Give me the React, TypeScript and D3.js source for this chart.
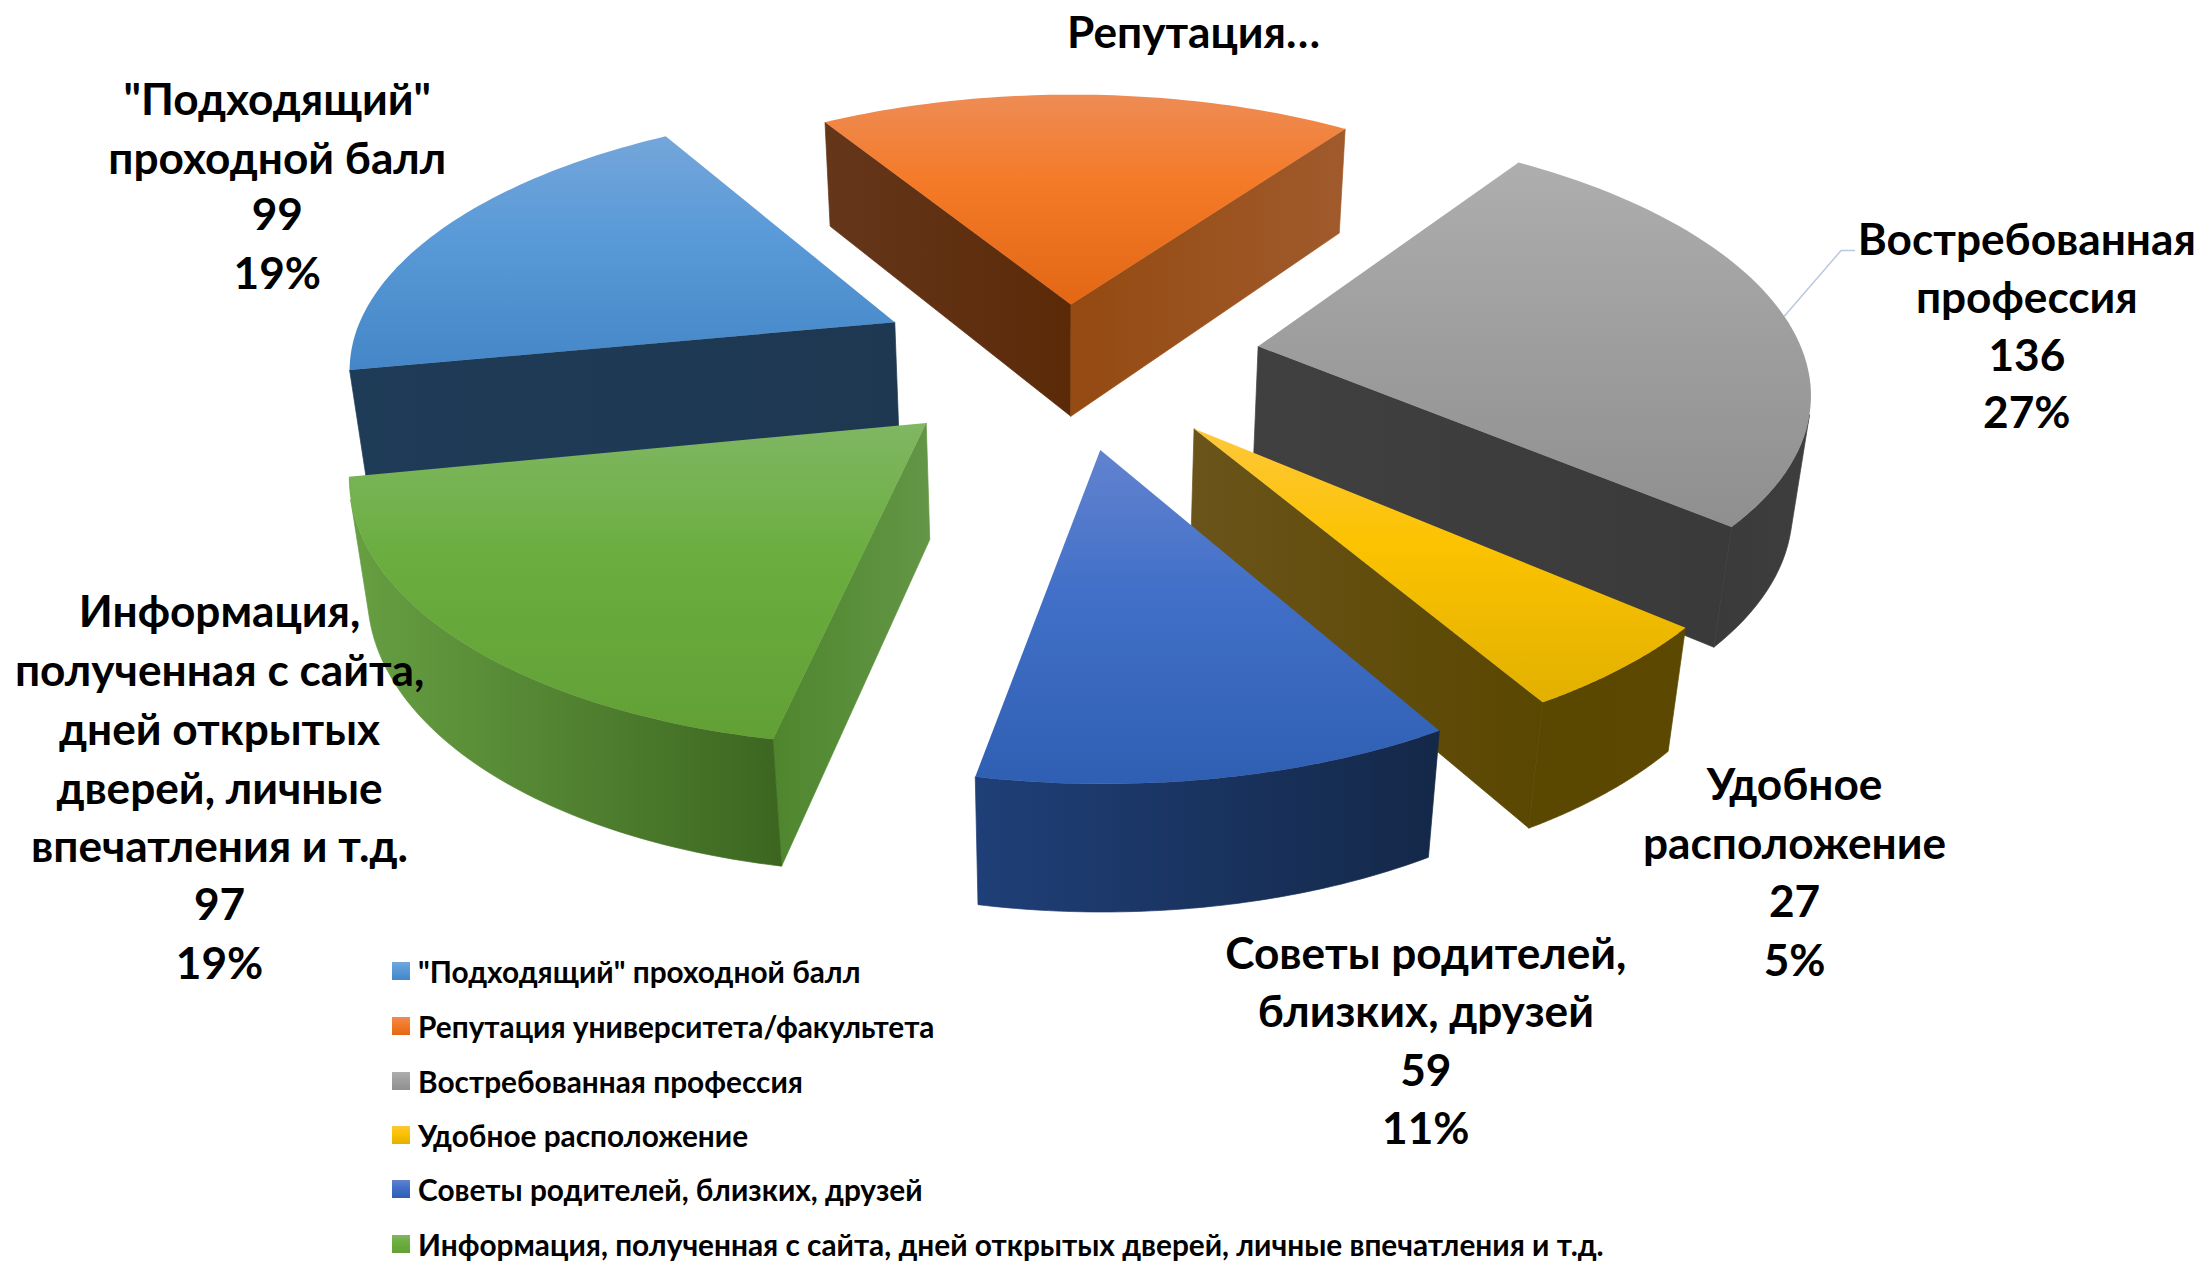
import React from "react";
import * as d3 from "d3";

const W = 2207, H = 1261, S = 2207 / 1568;

const categories = ['"Подходящий" проходной балл', "Репутация университета/факультета", "Востребованная профессия", "Удобное расположение", "Советы родителей, близких, друзей", "Информация, полученная с сайта, дней открытых дверей, личные впечатления и т.д."];
const values = [99, 95, 136, 27, 59, 97];
const explode = [0.352, 0.215, 0.355, 0.35, 0.35, 0.35];
const topStops = [
  ["#74a6da", "#5a9ad8", "#4486c7"],
  ["#ee8c55", "#f47a27", "#e36714"],
  ["#aeaeae", "#a0a0a0", "#8f8f8f"],
  ["#ffc73a", "#fbc300", "#e2b000"],
  ["#6283cf", "#4270c8", "#2f5fb3"],
  ["#80b763", "#6bad3f", "#62a035"],
];
const startFaceStops = [
  ["#1e3b57", "#1e3852"],
  ["#66361b", "#5a2a08"],
  ["#404040", "#404040"],
  ["#5a4700", "#5a4700"],
  ["#1f3f78", "#1f3f78"],
  ["#4f862d", "#639646"],
];
const endFaceStops = [
  ["#1e3b57", "#1e3852"],
  ["#944a11", "#a05a2c"],
  ["#404040", "#3a3a3a"],
  ["#6a541a", "#5a4700"],
  ["#1f3f78", "#1f3f78"],
  ["#679f42", "#3c6620"],
];
const arcStops = [
  ["#1e3852", "#1e3852"],
  ["#66361b", "#a05a2b"],
  ["#3a3a3a", "#3e3e3e"],
  ["#5a4700", "#5c4800"],
  ["#1f3f78", "#142848"],
  ["#679f42", "#3c6620"],
];
const drawOrder = [1, 0, 2, 5, 3, 4];

const labelBlocks = [
  { x: 197, lines: ['"Подходящий"', "проходной балл", "99", "19%"], ys: [69, 111, 151, 193] },
  { x: 848, lines: ["Репутация…"], ys: [22] },
  { x: 1440, lines: ["Востребованная", "профессия", "136", "27%"], ys: [169, 210, 251, 292] },
  { x: 1275, lines: ["Удобное", "расположение", "27", "5%"], ys: [556, 598, 639, 681] },
  { x: 1013, lines: ["Советы родителей,", "близких, друзей", "59", "11%"], ys: [676, 717, 759, 800] },
  { x: 156, lines: ["Информация,", "полученная с сайта,", "дней открытых", "дверей, личные", "впечатления и т.д.", "97", "19%"], ys: [433, 475, 517, 559, 600, 641, 683] },
];
const legendY = [971, 1026, 1081, 1135, 1189, 1244];

const toRad = Math.PI / 180;
const cam = { cx: 758 * S, cy: 254 * S, a: 388 * S, b: 181 * S, k: 0.146, depth: 83 * S, dw: 0.025, shear: 1.5 * S };

function project(X: number, Y: number, low: boolean): [number, number] {
  const w = 1 + cam.k * Y + (low ? cam.dw : 0);
  return [cam.cx + (cam.a * X + cam.shear * Y) / w, cam.cy + (-cam.b * Y + (low ? cam.depth : 0)) / w];
}

const pie = d3.pie<number>().sort(null).value((d) => d).startAngle(259 * toRad).endAngle((259 + 360) * toRad);
const arcs = pie(values);
const line = d3.line();
const closed = (pts: [number, number][]) => line(pts) + "Z";
const shoelace = (pts: [number, number][]) =>
  pts.reduce((acc, p, j) => {
    const q = pts[(j + 1) % pts.length];
    return acc + p[0] * q[1] - q[0] * p[1];
  }, 0);

const slices = arcs.map((arc, i) => {
  const mid = (arc.startAngle + arc.endAngle) / 2;
  const ox = Math.sin(mid) * explode[i];
  const oy = Math.cos(mid) * explode[i];
  const n = 60;
  const thetas = d3.range(n + 1).map((j) => arc.startAngle + ((arc.endAngle - arc.startAngle) * j) / n);
  const rim = (low: boolean) => thetas.map((t) => project(ox + Math.sin(t), oy + Math.cos(t), low));
  const apexT = project(ox, oy, false);
  const apexB = project(ox, oy, true);
  const rimT = rim(false);
  const rimB = rim(true);
  const startPts: [number, number][] = [apexT, rimT[0], rimB[0], apexB];
  const endPts: [number, number][] = [apexT, rimT[n], rimB[n], apexB];
  // only the rim segments that face the viewer
  const front = d3.range(n).filter((j) => shoelace([rimT[j], rimT[j + 1], rimB[j + 1], rimB[j]]) < 0);
  let arcFace = "";
  if (front.length) {
    const a = front[0], z = front[front.length - 1] + 1;
    arcFace = closed([...rimT.slice(a, z + 1), ...rimB.slice(a, z + 1).reverse()]);
  }
  return {
    i, ox, oy,
    top: closed([apexT, ...rimT]),
    startFace: shoelace(startPts) < 0 ? closed(startPts) : "",
    endFace: shoelace(endPts) > 0 ? closed(endPts) : "",
    arcFace,
  };
});

const leaderStart = project(slices[2].ox + Math.sin(83 * toRad), slices[2].oy + Math.cos(83 * toRad), false);

const fontFamily = "Lato, 'Open Sans', 'Noto Sans', sans-serif";

function Grad({ id, stops, vertical }: { id: string; stops: string[]; vertical?: boolean }) {
  return (
    <linearGradient id={id} x1="0" y1="0" x2={vertical ? 0 : 1} y2={vertical ? 1 : 0}>
      {stops.map((c, j) => (
        <stop key={j} offset={stops.length === 3 ? [0, 0.42, 1][j] : j} stopColor={c} />
      ))}
    </linearGradient>
  );
}

export default function App() {
  return (
    <svg width={W} height={H} viewBox={`0 0 ${W} ${H}`} style={{ position: "absolute", left: 0, top: 0, display: "block", background: "#fff" }} fontFamily={fontFamily}>
      <defs>
        {categories.map((_, i) => (
          <React.Fragment key={i}>
            <Grad id={`t${i}`} stops={topStops[i]} vertical />
            <Grad id={`s${i}`} stops={startFaceStops[i]} />
            <Grad id={`e${i}`} stops={endFaceStops[i]} />
            <Grad id={`a${i}`} stops={arcStops[i]} />
          </React.Fragment>
        ))}
      </defs>
      <path d={line([leaderStart, [1308 * S, 178 * S], [1318 * S, 178 * S]]) as string} fill="none" stroke="#b9c9de" strokeWidth={1.5} />
      {drawOrder.map((i) => {
        const s = slices[i];
        return (
          <g key={i}>
            {s.startFace && <path d={s.startFace} fill={`url(#s${i})`} stroke={`url(#s${i})`} strokeWidth={0.7} />}
            {s.endFace && <path d={s.endFace} fill={`url(#e${i})`} stroke={`url(#e${i})`} strokeWidth={0.7} />}
            {s.arcFace && <path d={s.arcFace} fill={`url(#a${i})`} stroke={`url(#a${i})`} strokeWidth={0.7} />}
            <path d={s.top} fill={`url(#t${i})`} />
          </g>
        );
      })}
      {labelBlocks.map((b, bi) => (
        <g key={bi} textAnchor="middle" fontWeight={700} fontSize={44.2} fill="#000">
          {b.lines.map((t, j) => (
            <text key={j} x={b.x * S} y={b.ys[j] * S} dominantBaseline="central">{t}</text>
          ))}
        </g>
      ))}
      {categories.map((c, i) => (
        <g key={c}>
          <rect x={392} y={legendY[i] - 9} width={18} height={18} fill={`url(#t${i})`} />
          <text x={418} y={legendY[i]} dominantBaseline="central" fontWeight={700} fontSize={29.8} fill="#000">{c}</text>
        </g>
      ))}
    </svg>
  );
}
